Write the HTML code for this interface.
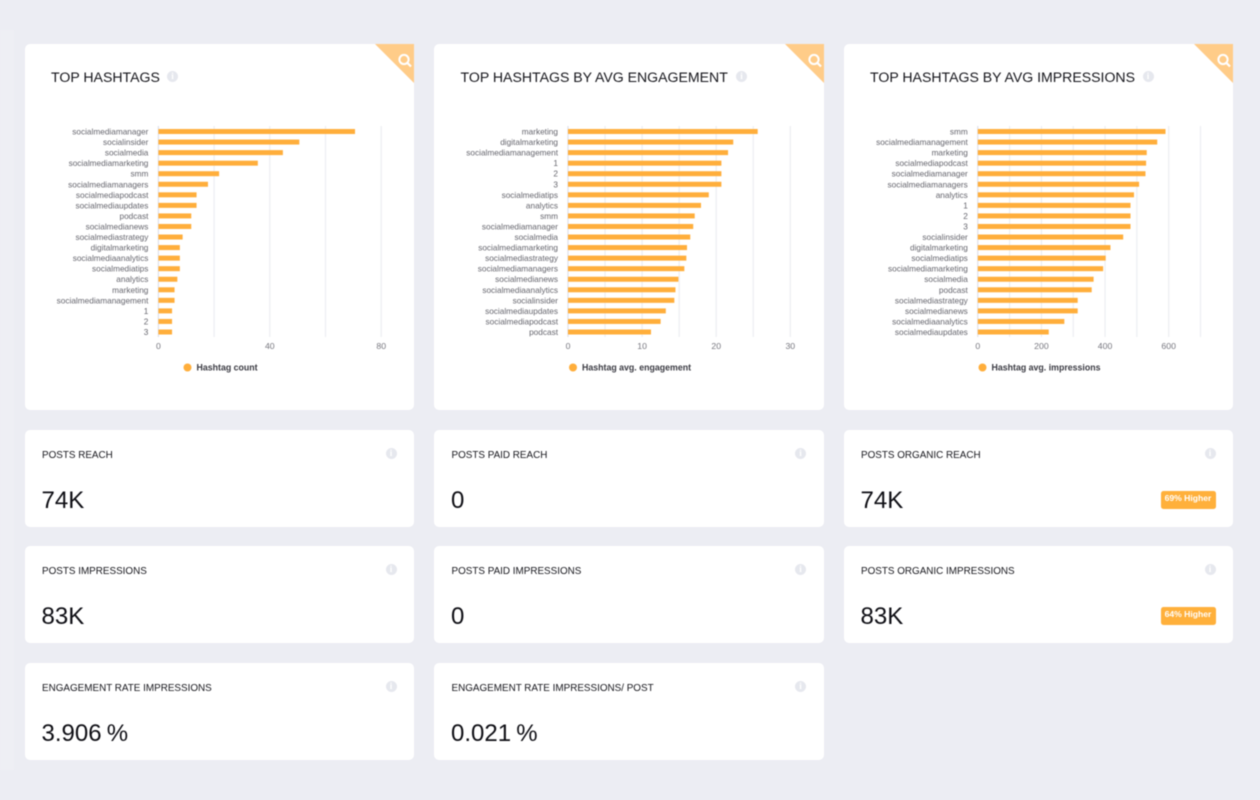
<!DOCTYPE html>
<html lang="en">
<head>
<meta charset="utf-8">
<title>Hashtag dashboard</title>
<style>
html,body{margin:0;padding:0;width:1260px;height:800px;overflow:hidden;background:#ecedf3;}
#root{position:absolute;left:0;top:0;width:1260px;height:800px;filter:blur(0.45px);font-family:"Liberation Sans",sans-serif;}
#band{position:absolute;left:0;top:30px;width:14px;height:740px;background:#eeeff4;}
.card{position:absolute;background:#fff;border-radius:5px;overflow:hidden;}
.chart-card{top:44px;width:389.5px;height:365.5px;border-top-right-radius:0;}
.stat{width:389.5px;height:96.5px;}
.corner{position:absolute;right:0;top:0;width:39px;height:39px;}
.title{position:absolute;left:26.5px;top:24px;font-size:14.1px;line-height:18px;color:#15151b;white-space:nowrap;}
.info{position:absolute;width:11px;height:11px;border-radius:50%;background:#e6e8ee;color:#fff;font:bold 9px/11px "Liberation Serif",serif;text-align:center;}
.stat-title{position:absolute;left:17.5px;top:18.5px;font-size:9.9px;line-height:13px;color:#17171d;white-space:nowrap;}
.stat-value{position:absolute;left:17px;top:56.5px;font-size:24px;line-height:28px;color:#0e0e14;white-space:nowrap;word-spacing:-1.5px;}
.stat .info{right:17.5px;top:18px;}
.badge{position:absolute;left:317px;top:61px;width:55px;height:18px;border-radius:2.5px;background:#ffb03b;color:#fff;font-size:8.6px;font-weight:bold;line-height:15px;text-align:center;}
svg.chart{position:absolute;left:0;top:0;width:389.5px;height:365.5px;font-family:"Liberation Sans",sans-serif;}
</style>
</head>
<body>
<div id="root">
<div id="band"></div>

<div class="card chart-card" style="left:24.5px">
  <div class="title">TOP HASHTAGS</div>
  <div class="info" style="left:142.5px;top:27px">i</div>
  <svg class="chart" id="chart-count" viewBox="0 0 389.5 365.5"></svg>
  <svg class="corner" viewBox="0 0 39 39"><polygon points="0,0 39,0 39,39" fill="#ffcc88"/><circle cx="29" cy="15.5" r="4.6" fill="none" stroke="#fff" stroke-width="2"/><line x1="32.5" y1="19" x2="36" y2="22.5" stroke="#fff" stroke-width="2.2"/></svg>
</div>

<div class="card chart-card" style="left:434px">
  <div class="title">TOP HASHTAGS BY AVG ENGAGEMENT</div>
  <div class="info" style="left:302px;top:27px">i</div>
  <svg class="chart" id="chart-engagement" viewBox="0 0 389.5 365.5"></svg>
  <svg class="corner" viewBox="0 0 39 39"><polygon points="0,0 39,0 39,39" fill="#ffcc88"/><circle cx="29" cy="15.5" r="4.6" fill="none" stroke="#fff" stroke-width="2"/><line x1="32.5" y1="19" x2="36" y2="22.5" stroke="#fff" stroke-width="2.2"/></svg>
</div>

<div class="card chart-card" style="left:843.5px">
  <div class="title">TOP HASHTAGS BY AVG IMPRESSIONS</div>
  <div class="info" style="left:299px;top:27px">i</div>
  <svg class="chart" id="chart-impressions" viewBox="0 0 389.5 365.5"></svg>
  <svg class="corner" viewBox="0 0 39 39"><polygon points="0,0 39,0 39,39" fill="#ffcc88"/><circle cx="29" cy="15.5" r="4.6" fill="none" stroke="#fff" stroke-width="2"/><line x1="32.5" y1="19" x2="36" y2="22.5" stroke="#fff" stroke-width="2.2"/></svg>
</div>

<div class="card stat" style="left:24.5px;top:430px">
  <div class="stat-title">POSTS REACH</div>
  <div class="info">i</div>
  <div class="stat-value">74K</div>
</div>
<div class="card stat" style="left:434px;top:430px">
  <div class="stat-title">POSTS PAID REACH</div>
  <div class="info">i</div>
  <div class="stat-value">0</div>
</div>
<div class="card stat" style="left:843.5px;top:430px">
  <div class="stat-title">POSTS ORGANIC REACH</div>
  <div class="info">i</div>
  <div class="stat-value">74K</div>
  <div class="badge">69% Higher</div>
</div>

<div class="card stat" style="left:24.5px;top:546px">
  <div class="stat-title">POSTS IMPRESSIONS</div>
  <div class="info">i</div>
  <div class="stat-value">83K</div>
</div>
<div class="card stat" style="left:434px;top:546px">
  <div class="stat-title">POSTS PAID IMPRESSIONS</div>
  <div class="info">i</div>
  <div class="stat-value">0</div>
</div>
<div class="card stat" style="left:843.5px;top:546px">
  <div class="stat-title">POSTS ORGANIC IMPRESSIONS</div>
  <div class="info">i</div>
  <div class="stat-value">83K</div>
  <div class="badge">64% Higher</div>
</div>

<div class="card stat" style="left:24.5px;top:663px">
  <div class="stat-title">ENGAGEMENT RATE IMPRESSIONS</div>
  <div class="info">i</div>
  <div class="stat-value">3.906 %</div>
</div>
<div class="card stat" style="left:434px;top:663px">
  <div class="stat-title">ENGAGEMENT RATE IMPRESSIONS/ POST</div>
  <div class="info">i</div>
  <div class="stat-value">0.021 %</div>
</div>
</div>

<script>
const countCategories = ["socialmediamanager","socialinsider","socialmedia","socialmediamarketing","smm","socialmediamanagers","socialmediapodcast","socialmediaupdates","podcast","socialmedianews","socialmediastrategy","digitalmarketing","socialmediaanalytics","socialmediatips","analytics","marketing","socialmediamanagement","1","2","3"];
const countValues = [70.6,50.6,44.7,35.7,21.8,17.8,13.7,13.7,11.8,11.8,8.7,7.7,7.7,7.7,6.8,5.8,5.8,4.9,4.9,4.9];
const countTicks = [0,40,80];
const countGrid = [0,20,40,60,80];

const engagementCategories = ["marketing","digitalmarketing","socialmediamanagement","1","2","3","socialmediatips","analytics","smm","socialmediamanager","socialmedia","socialmediamarketing","socialmediastrategy","socialmediamanagers","socialmedianews","socialmediaanalytics","socialinsider","socialmediaupdates","socialmediapodcast","podcast"];
const engagementValues = [25.6,22.3,21.6,20.7,20.7,20.7,19,17.95,17.1,16.9,16.5,16.06,15.97,15.7,14.9,14.5,14.35,13.2,12.5,11.2];
const engagementTicks = [0,10,20,30];
const engagementGrid = [0,5,10,15,20,25,30];

const impressionCategories = ["smm","socialmediamanagement","marketing","socialmediapodcast","socialmediamanager","socialmediamanagers","analytics","1","2","3","socialinsider","digitalmarketing","socialmediatips","socialmediamarketing","socialmedia","podcast","socialmediastrategy","socialmedianews","socialmediaanalytics","socialmediaupdates"];
const impressionValues = [590,564,531,529,527,507,491,480,480,480,457,417,402,394,364,358,314,314,272,223];
const impressionTicks = [0,200,400,600];
const impressionGrid = [0,100,200,300,400,500,600,700];

const NS = 'http://www.w3.org/2000/svg';

function node(parent, tag, attrs, text) {
  const el = document.createElementNS(NS, tag);
  for (const k in attrs) el.setAttribute(k, attrs[k]);
  if (text !== undefined) el.textContent = text;
  parent.appendChild(el);
  return el;
}

function drawChart(opts) {
  const svg = document.getElementById(opts.id);
  const xScale = function (v) { return opts.left + (v - 0) * (opts.right - opts.left) / opts.domainMax; };
  const yScale = function (i) { return 87.5 + i * (200.5 / (opts.categories.length - 1)); };

  opts.grid.forEach(function (g) {
    const line = node(svg, 'line', {x1: xScale(g), x2: xScale(g), y1: 82, y2: 293, stroke: g === 0 ? '#dfe1ea' : '#eceef2', 'stroke-width': 1.2});
    
    
  });

  opts.categories.forEach(function (c, i) {
    const label = node(svg, 'text', {x: opts.left - 10, y: yScale(i) + 3, 'text-anchor': 'end', 'font-size': 8.25, fill: '#66666e'}, c);
    
    
    const bar = node(svg, 'rect', {x: xScale(0), y: yScale(i) - 2.5, width: xScale(opts.values[i]) - xScale(0), height: 5, fill: '#ffae3b'});
    
    
  });

  opts.ticks.forEach(function (t) {
    const tick = node(svg, 'text', {x: xScale(t), y: 305, 'text-anchor': 'middle', 'font-size': 8.7, fill: '#77777f'}, t);
    
    
  });

  const dot = node(svg, 'circle', {cx: opts.legendX, cy: 323.5, r: 4, fill: '#ffae3b'});
  
  
  const legend = node(svg, 'text', {x: opts.legendX + 9, y: 326.5, 'font-size': 8.8, 'font-weight': 'bold', fill: '#3a3a42'}, opts.legend);
  
  
}

drawChart({id: 'chart-count', categories: countCategories, values: countValues, ticks: countTicks, grid: countGrid, domainMax: 80, left: 133.4, right: 356.2, legend: 'Hashtag count', legendX: 162.5});
drawChart({id: 'chart-engagement', categories: engagementCategories, values: engagementValues, ticks: engagementTicks, grid: engagementGrid, domainMax: 30, left: 134, right: 356.3, legend: 'Hashtag avg. engagement', legendX: 139});
drawChart({id: 'chart-impressions', categories: impressionCategories, values: impressionValues, ticks: impressionTicks, grid: impressionGrid, domainMax: 700, left: 133.8, right: 356.5, legend: 'Hashtag avg. impressions', legendX: 138.5});
</script>
</body>
</html>
